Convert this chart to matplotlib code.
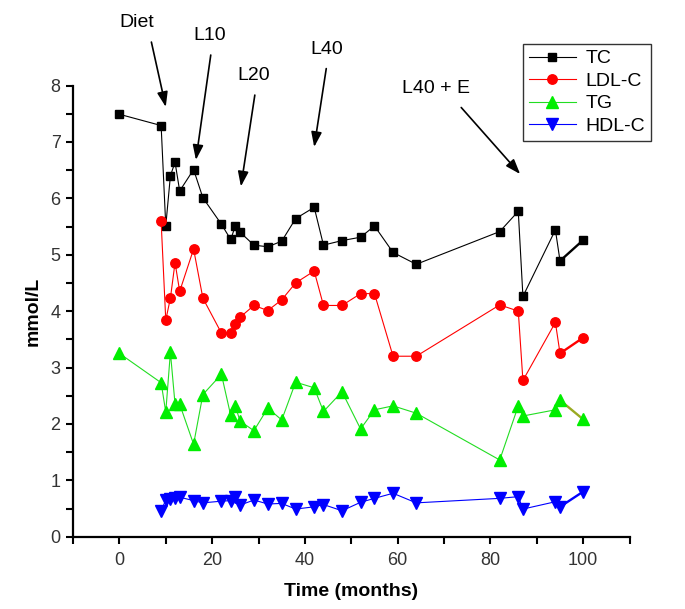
import matplotlib
matplotlib.use("Agg")
import matplotlib.pyplot as plt
from matplotlib.font_manager import fontManager

names = {f.name for f in fontManager.ttflist}
narrow = 'Liberation Sans Narrow' if 'Liberation Sans Narrow' in names else 'Liberation Sans'
plt.rcParams['font.family'] = ['Liberation Sans', 'DejaVu Sans']

# ---- data ----
tc_x = [0, 9, 10, 11, 12, 13, 16, 18, 22, 24, 25, 26, 29, 32, 35, 38, 42, 44, 48, 52, 55, 59, 64, 82, 86, 87, 94, 95, 100]
tc_y = [7.49, 7.29, 5.51, 6.40, 6.64, 6.13, 6.51, 6.01, 5.54, 5.27, 5.51, 5.40, 5.17, 5.14, 5.24, 5.64, 5.84, 5.17, 5.25, 5.31, 5.51, 5.04, 4.83, 5.41, 5.77, 4.26, 5.44, 4.89, 5.26]

ldl_x = [9, 10, 11, 12, 13, 16, 18, 22, 24, 25, 26, 29, 32, 35, 38, 42, 44, 48, 52, 55, 59, 64, 82, 86, 87, 94, 95, 100]
ldl_y = [5.59, 3.84, 4.23, 4.86, 4.35, 5.10, 4.23, 3.61, 3.61, 3.78, 3.89, 4.10, 4.01, 4.20, 4.50, 4.71, 4.10, 4.10, 4.31, 4.31, 3.20, 3.20, 4.11, 4.00, 2.77, 3.80, 3.25, 3.53]

tg_x = [0, 9, 10, 11, 12, 13, 16, 18, 22, 24, 25, 26, 29, 32, 35, 38, 42, 44, 48, 52, 55, 59, 64, 82, 86, 87, 94, 95, 100]
tg_y = [3.25, 2.73, 2.21, 3.27, 2.35, 2.35, 1.64, 2.52, 2.88, 2.15, 2.32, 2.05, 1.88, 2.28, 2.07, 2.74, 2.64, 2.22, 2.57, 1.91, 2.25, 2.32, 2.19, 1.36, 2.32, 2.14, 2.25, 2.42, 2.08]

hdl_x = [9, 10, 11, 12, 13, 16, 18, 22, 24, 25, 26, 29, 32, 35, 38, 42, 44, 48, 52, 55, 59, 64, 82, 86, 87, 94, 95, 100]
hdl_y = [0.46, 0.65, 0.67, 0.68, 0.70, 0.64, 0.60, 0.63, 0.64, 0.71, 0.56, 0.65, 0.58, 0.59, 0.49, 0.53, 0.57, 0.46, 0.61, 0.68, 0.77, 0.60, 0.68, 0.71, 0.49, 0.62, 0.53, 0.80]

labels = ['TC', 'LDL-C', 'TG', 'HDL-C']
x_ticks = [0, 20, 40, 60, 80, 100]
y_ticks = [0, 1, 2, 3, 4, 5, 6, 7, 8]

notes = ['Diet', 'L10', 'L20', 'L40', 'L40 + E']
note_tip = [(10.0, 7.62), (16.5, 6.68), (26.2, 6.21), (42.0, 6.91), (86.4, 6.43)]
note_tail = [(6.9, 8.77), (19.7, 8.54), (29.2, 7.83), (44.6, 8.30), (73.7, 7.61)]
note_text = [(3.8, 9.11), (19.5, 8.88), (28.9, 8.18), (44.6, 8.64), (68.3, 7.95)]

# ---- figure ----
fig = plt.figure(figsize=(6.85, 6.09), dpi=100)
ax = fig.add_axes([73/685, 1-536.7/609, (629.6-73)/685, 451.2/609])

series = [
    (tc_x, tc_y, 'black', 's', 6.0, 'black'),
    (ldl_x, ldl_y, '#ff0000', 'o', 6.8, '#ff0000'),
    (tg_x, tg_y, '#22dd22', '^', 8.8, '#99aa22'),
    (hdl_x, hdl_y, '#0000ff', 'v', 8.8, '#0000ff'),
]
mcols = ['black', '#ff0000', '#00ee00', '#0000ff']
handles = []
for (xs, ys, c, m, ms, clast), lab, mc in zip(series, labels, mcols):
    h, = ax.plot(xs[:-1], ys[:-1], '-', color=c, lw=0.8, marker=m, ms=ms,
                 mfc=mc, mec=mc, label=lab, zorder=3)
    ax.plot(xs[-2:], ys[-2:], '-', color=clast, lw=1.7, zorder=2)
    ax.plot(xs[-1:], ys[-1:], ls='none', marker=m, ms=ms, mfc=mc, mec=mc, zorder=3)
    handles.append(h)

ax.set_xlim(-10, 110)
ax.set_ylim(0, 8)
ax.set_xticks(x_ticks)
ax.set_xticks(list(range(-10, 111, 10)), minor=True)
ax.set_yticks(y_ticks)
ax.set_yticks([v / 2 for v in range(0, 17)], minor=True)
for s in ['top', 'right']:
    ax.spines[s].set_visible(False)
for s in ['left', 'bottom']:
    ax.spines[s].set_linewidth(1.6)
ax.tick_params(which='both', direction='out', length=5, width=1.5, colors='black')
ax.tick_params(axis='x', labelsize=13, pad=6)
ax.tick_params(axis='y', labelsize=13, pad=4)
for t in ax.get_xticklabels() + ax.get_yticklabels():
    t.set_family([narrow, 'DejaVu Sans'])
    t.set_color('#333333')

ax.set_xlabel('Time (months)', fontsize=14, fontweight='bold', labelpad=10)
ax.set_ylabel('mmol/L', fontsize=14, fontweight='bold', labelpad=6)

for txt, tip, tail, tpos in zip(notes, note_tip, note_tail, note_text):
    ax.annotate('', xy=tip, xytext=tail, annotation_clip=False,
                arrowprops=dict(arrowstyle='-|>,head_length=0.9,head_width=0.32',
                                color='black', lw=1.2, shrinkA=0, shrinkB=0))
    ax.text(tpos[0], tpos[1], txt, fontsize=14, ha='center', va='center',
            clip_on=False)

leg = fig.legend(handles=handles, labels=labels, loc='upper left',
                 bbox_to_anchor=(523/685, 1-44/609), fontsize=14,
                 frameon=True, fancybox=False, edgecolor='black',
                 handlelength=2.4, handletextpad=0.5, borderpad=0.3,
                 labelspacing=0.25, borderaxespad=0)
leg.get_frame().set_linewidth(1.0)

fig.savefig('out.png', dpi=100)
